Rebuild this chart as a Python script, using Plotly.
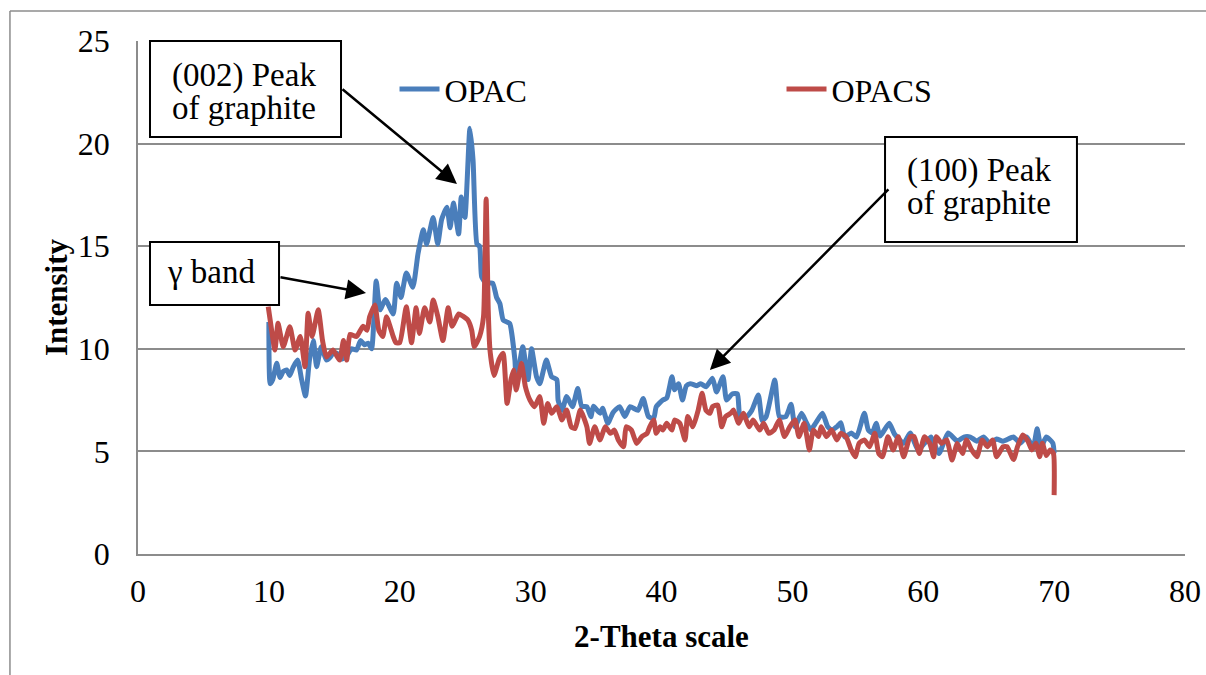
import plotly.graph_objects as go

# ---- data ----
opac_x = [10.0, 10.1, 10.3, 10.6, 10.85, 11.1, 11.36, 11.6, 11.85, 12.2, 12.5, 12.8, 13.1, 13.4, 13.65,
          14.0, 14.4, 14.7, 14.9, 15.2, 15.5, 15.9, 16.3, 16.7, 17.0, 17.3, 17.6, 17.85, 18.2, 18.5,
          18.9, 19.5, 19.76, 20.1, 20.5, 21.0, 21.4, 21.8, 22.05, 22.55, 22.9, 23.2, 23.6, 23.85, 24.1,
          24.5, 24.7, 24.98, 25.36, 25.6, 25.9, 26.1, 26.26, 26.6, 27.1, 27.4, 27.65, 27.9, 28.2, 28.4,
          28.8, 28.9, 29.4, 29.8, 30.07, 30.45, 30.7, 31.2, 31.6, 32.0, 32.1, 32.4, 32.75, 33.2, 33.6,
          33.9, 34.3, 34.6, 34.8, 35.3, 35.5, 35.9, 36.3, 36.8, 37.2, 37.6, 38.2, 38.6, 39.0, 39.4,
          39.6, 40.1, 40.4, 40.8, 41.0, 41.3, 41.6, 41.9, 42.2, 42.7, 43.0, 43.4, 43.9, 44.2, 44.7,
          44.97, 45.4, 45.8, 46.0, 46.5, 46.9, 47.4, 47.7, 48.0, 48.66, 49.0, 49.5, 49.9, 50.2, 50.7,
          51.0, 51.4, 51.8, 52.3, 52.7, 53.0, 53.4, 53.7, 54.0, 54.5, 54.9, 55.5, 55.8, 56.1, 56.4,
          56.7, 57.4, 57.8, 58.5, 59.0, 59.6, 60.1, 60.6, 61.2, 61.9, 62.6, 63.1, 63.6, 64.1, 64.6,
          65.1, 65.6, 66.1, 66.9, 67.4, 67.9, 68.4, 68.7, 69.0, 69.4, 69.9, 70.0]
opac_y = [11.3, 8.3, 8.5, 9.3, 8.6, 8.9, 8.97, 8.7, 9.1, 9.45, 8.5, 7.7, 9.45, 10.4, 9.13,
          10.1, 9.45, 9.6, 9.78, 9.78, 9.5, 9.6, 10.0, 9.94, 10.4, 10.2, 10.27, 10.0, 13.3, 11.9,
          12.4, 11.7, 13.2, 12.5, 13.7, 13.0, 14.65, 15.8, 15.1, 16.4, 15.1, 16.3, 16.9, 15.9, 17.1,
          15.6, 17.4, 16.4, 20.75, 19.2, 15.1, 15.0, 13.5, 13.2, 13.2, 12.5, 12.2, 11.4, 11.3, 11.24,
          9.45, 8.3, 10.1, 8.5, 10.0, 8.64, 8.3, 9.45, 8.64, 8.5, 7.5, 7.0, 7.67, 7.18, 8.07,
          7.2, 7.18, 6.69, 7.2, 6.86, 7.1, 6.37, 6.9, 7.18, 6.7, 7.18, 7.0, 7.58, 6.7, 6.6,
          7.18, 7.5, 7.6, 8.64, 8.0, 8.3, 7.5, 8.2, 8.3, 8.2, 8.3, 8.15, 8.56, 7.9, 8.64,
          7.5, 7.8, 7.8, 6.7, 6.7, 7.0, 7.75, 6.5, 6.7, 8.48, 6.7, 6.69, 7.3, 6.2, 6.86,
          6.5, 6.05, 6.4, 6.86, 6.2, 6.05, 6.2, 6.4, 5.7, 5.9, 5.7, 6.86, 6.05, 5.9, 6.37,
          5.75, 6.37, 5.85, 5.4, 5.9, 5.07, 5.4, 5.7, 4.9, 5.9, 5.5, 5.7, 5.7, 5.5, 5.7,
          5.4, 5.6, 5.5, 5.7, 5.4, 5.7, 5.2, 6.1, 5.2, 5.7, 5.4, 4.9]

opacs_x = [9.95, 10.1, 10.46, 10.7, 11.1, 11.6, 12.0, 12.4, 12.76, 13.0, 13.3, 13.77, 14.1, 14.4, 14.9,
           15.4, 15.7, 15.95, 16.2, 16.7, 17.2, 17.5, 17.7, 18.1, 18.4, 18.7, 18.99, 19.5, 19.7, 20.0,
           20.5, 20.9, 21.25, 21.5, 21.9, 22.3, 22.55, 22.9, 23.3, 23.7, 24.0, 24.5, 24.8, 25.2, 25.5,
           25.7, 26.1, 26.4, 26.6, 26.76, 26.9, 27.2, 27.6, 27.9, 28.2, 28.5, 28.7, 28.9, 29.3, 29.6,
           29.95, 30.3, 30.7, 31.0, 31.3, 31.6, 32.0, 32.4, 32.75, 33.1, 33.4, 33.8, 34.3, 34.5, 34.9,
           35.3, 35.7, 36.1, 36.4, 36.7, 37.1, 37.3, 37.7, 38.1, 38.5, 38.9, 39.1, 39.4, 39.6, 39.9,
           40.1, 40.4, 40.8, 41.0, 41.4, 41.8, 42.0, 42.4, 42.8, 43.1, 43.4, 43.7, 43.9, 44.3, 44.6,
           44.9, 45.3, 45.5, 45.9, 46.25, 46.7, 47.0, 47.5, 47.8, 48.2, 48.6, 49.0, 49.4, 49.8, 50.2,
           50.5, 50.9, 51.3, 51.6, 52.0, 52.2, 52.6, 53.0, 53.4, 53.7, 54.1, 54.5, 54.8, 55.1, 55.5,
           55.9, 56.3, 56.6, 56.9, 57.3, 57.7, 58.1, 58.5, 59.0, 59.3, 59.7, 60.1, 60.5, 60.8, 61.0,
           61.4, 61.8, 62.2, 62.6, 63.0, 63.3, 63.7, 64.1, 64.5, 64.9, 65.3, 65.6, 66.1, 66.4, 66.9,
           67.2, 67.6, 68.0, 68.3, 68.6, 68.9, 69.1, 69.4, 69.7, 69.95, 70.0]
opacs_y = [12.05, 11.4, 9.94, 11.24, 10.1, 11.08, 9.94, 10.6, 9.13, 11.73, 10.6, 11.9, 10.4, 9.6, 9.94,
           9.45, 10.4, 9.45, 10.7, 10.6, 11.1, 10.9, 11.56, 12.13, 10.9, 10.6, 11.56, 10.6, 10.3, 10.3,
           12.05, 10.3, 12.0, 10.75, 12.0, 11.3, 12.38, 11.6, 10.4, 12.0, 11.1, 11.7, 11.6, 11.4, 10.9,
           10.1, 10.6, 11.56, 17.3, 11.9, 9.9, 8.7, 9.5, 9.78, 7.34, 8.5, 8.97, 7.99, 9.29, 8.15,
           7.5, 7.18, 7.67, 6.37, 7.34, 6.86, 7.18, 6.53, 7.02, 6.2, 6.12, 7.02, 6.2, 5.39, 6.2,
           5.56, 6.2, 5.88, 6.04, 5.56, 5.23, 6.2, 6.04, 5.39, 5.72, 5.88, 6.2, 6.53, 5.88, 6.2,
           6.04, 6.37, 6.04, 6.53, 6.37, 5.56, 6.7, 6.2, 7.0, 7.83, 7.0, 6.86, 7.18, 7.26, 6.2,
           6.7, 6.86, 7.02, 6.37, 6.86, 6.2, 6.53, 6.04, 6.37, 5.88, 6.04, 6.53, 5.72, 6.2, 6.53,
           5.72, 6.37, 5.07, 6.04, 5.72, 6.2, 5.72, 6.04, 5.56, 5.88, 5.72, 5.07, 4.74, 5.4, 5.56,
           5.23, 5.88, 4.9, 4.74, 5.72, 5.07, 5.72, 4.74, 5.72, 5.72, 4.9, 5.72, 5.39, 4.74, 5.72,
           5.39, 5.56, 4.58, 5.39, 4.9, 5.56, 5.07, 4.74, 5.56, 5.23, 5.56, 4.74, 5.23, 5.23, 4.6,
           5.23, 5.8, 5.5, 5.07, 5.4, 4.74, 5.4, 4.8, 5.07, 4.9, 2.87]

x_ticks = [0, 10, 20, 30, 40, 50, 60, 70, 80]
y_ticks = [0, 5, 10, 15, 20, 25]

BLUE = "#4A7EBB"
RED = "#BE4B48"
GRID = "#8C8C8C"
FONT = "Liberation Serif, Times New Roman, serif"

fig = go.Figure()
fig.add_trace(go.Scatter(x=opac_x, y=opac_y, mode="lines", name="OPAC",
                         line=dict(color=BLUE, width=5, shape="spline", smoothing=0.5)))
fig.add_trace(go.Scatter(x=opacs_x, y=opacs_y, mode="lines", name="OPACS",
                         line=dict(color=RED, width=5, shape="spline", smoothing=0.5)))

fig.update_layout(
    width=1206, height=675,
    margin=dict(l=138, r=21, t=41, b=121, autoexpand=False),
    paper_bgcolor="white", plot_bgcolor="white",
    font=dict(family=FONT, size=32, color="black"),
    showlegend=True,
    legend=dict(orientation="h", x=0.245, y=0.906, xanchor="left", yanchor="middle",
                entrywidth=332, entrywidthmode="pixels", bgcolor="rgba(0,0,0,0)",
                font=dict(family=FONT, size=32), itemwidth=40, tracegroupgap=0),
    xaxis=dict(range=[0, 80], tickvals=x_ticks, showgrid=False, zeroline=False, automargin=False,
               showline=True, linecolor=GRID, linewidth=1.5, mirror=False,
               ticks="outside", ticklen=8, tickcolor="rgba(0,0,0,0)",
               tickfont=dict(family=FONT, size=32),
               title=dict(text="<b>2-Theta scale</b>", font=dict(family=FONT, size=31), standoff=17)),
    yaxis=dict(range=[0, 25], tickvals=y_ticks, showgrid=True, gridcolor=GRID, gridwidth=1.5,
               zeroline=False, showline=True, linecolor=GRID, linewidth=1.5, automargin=False,
               ticks="outside", ticklen=20, tickcolor="rgba(0,0,0,0)",
               tickfont=dict(family=FONT, size=32),
               title=dict(text="<b>Intensity</b>", font=dict(family=FONT, size=31), standoff=1)),
)

# outer chart border (left and top edges visible)
fig.add_shape(type="line", xref="paper", yref="paper", x0=-0.1223, x1=1.2, y0=1.0585, y1=1.0585,
              line=dict(color=GRID, width=1.5))
fig.add_shape(type="line", xref="paper", yref="paper", x0=-0.1223, x1=-0.1223, y0=-0.3, y1=1.0585,
              line=dict(color=GRID, width=1.5))

# annotation boxes (paper coords) and their text lines
box_rects = [
    (0.01146, 0.1939, 0.8129, 1.0),
    (0.01146, 0.1347, 0.4854, 0.6082),
    (0.7135, 0.8968, 0.6082, 0.8129),
]
for x0, x1, y0, y1 in box_rects:
    fig.add_shape(type="rect", xref="paper", yref="paper", x0=x0, x1=x1, y0=y0, y1=y1,
                  line=dict(color="black", width=2), fillcolor="white", layer="above")

box_lines = [
    ("(002) Peak", 0.03056, 0.9337),
    ("of graphite", 0.03056, 0.8694),
    ("\u03b3 band", 0.0258, 0.5497),
    ("(100) Peak", 0.7326, 0.7485),
    ("of graphite", 0.7326, 0.6842),
]
for txt, tx, ty in box_lines:
    fig.add_annotation(text=txt, xref="paper", yref="paper", x=tx, y=ty,
                       xanchor="left", yanchor="middle", showarrow=False,
                       font=dict(family=FONT, size=33, color="black"))

# arrows (tail -> tip, in axis units)
arrows = [
    (15.51, 22.71, 24.37, 18.03),
    (10.77, 13.50, 17.42, 12.72),
    (57.45, 17.84, 43.70, 8.97),
]
for ax_, ay_, tx, ty in arrows:
    fig.add_annotation(text="", x=tx, y=ty, ax=ax_, ay=ay_, xref="x", yref="y",
                       axref="x", ayref="y", showarrow=True, arrowhead=2,
                       arrowsize=1.6, arrowwidth=2.5, arrowcolor="black")

fig.write_html("out.html", config={"displayModeBar": False},
               post_script="document.body.style.margin='0';")
